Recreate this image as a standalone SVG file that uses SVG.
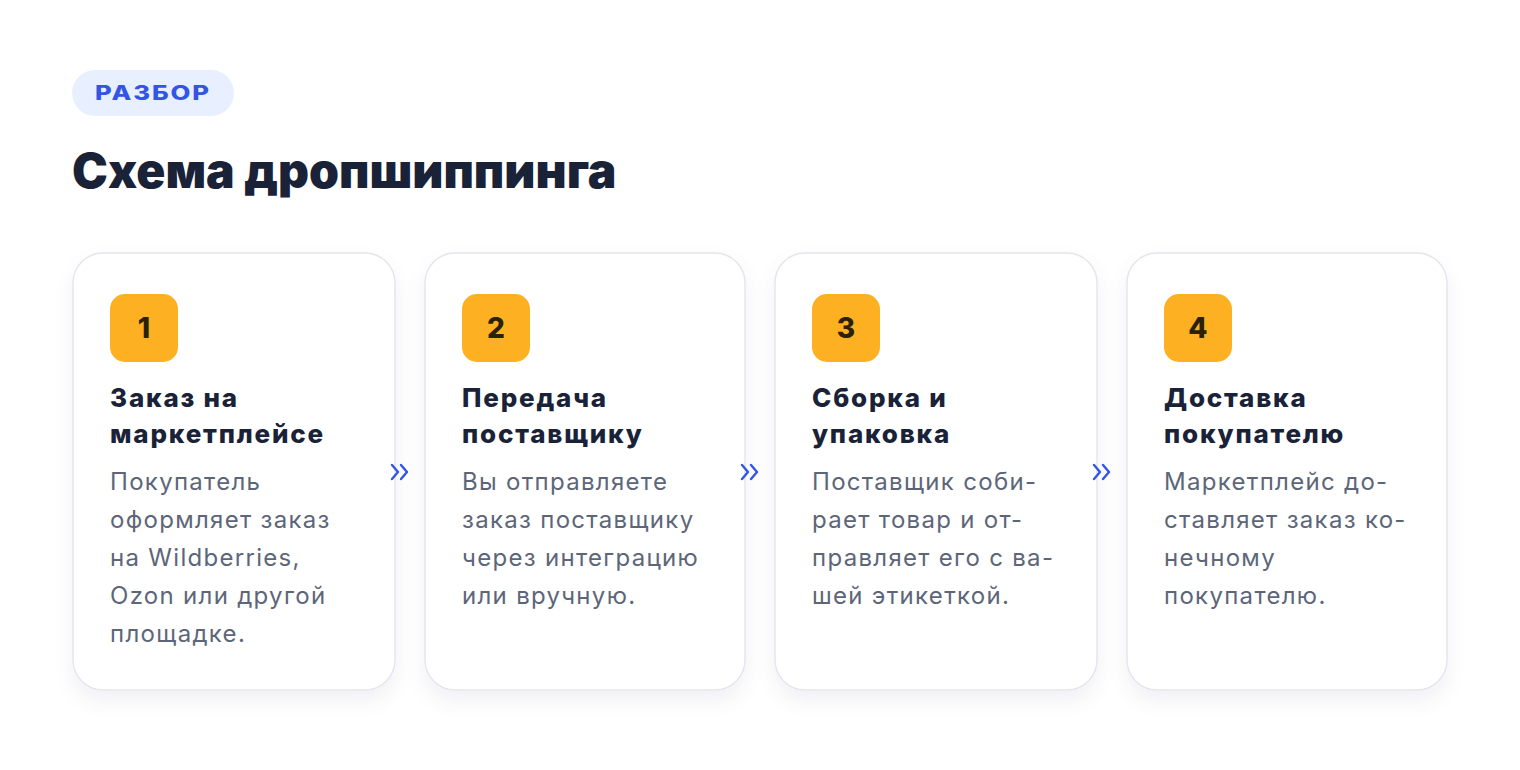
<svg xmlns="http://www.w3.org/2000/svg" width="1520" height="770" viewBox="0 0 1520 770">
<defs>
<filter id="sh" x="-20%" y="-20%" width="140%" height="140%">
<feDropShadow dx="0" dy="10" stdDeviation="10" flood-color="#1a2238" flood-opacity="0.06"/>
</filter>
<style>
.card{fill:#ffffff;stroke:#e3e6ee;stroke-width:1.5}
.badge{fill:#fdb022}
.num{font-family:Inter,"Noto Sans",sans-serif;font-weight:800;font-size:28px;fill:#2a2205;text-anchor:middle;letter-spacing:0}
.ttl{font-family:Inter,"Noto Sans",sans-serif;font-weight:800;font-size:26px;fill:#1a2238;letter-spacing:1.8px}
.dsc{font-family:Inter,"Noto Sans",sans-serif;font-weight:400;font-size:24px;fill:#5d6679;letter-spacing:1.3px}
.chev{fill:none;stroke:#3355e6;stroke-width:2.4;stroke-linecap:round;stroke-linejoin:round}
</style>
</defs>
<rect width="1520" height="770" fill="#ffffff"/>
<g id="tag">
<rect x="72" y="70" width="162" height="46" rx="23" fill="#e8efff"/>
<text x="95" y="99.5" font-family="Inter,'Noto Sans',sans-serif" font-weight="800" font-size="20" letter-spacing="1.5" textLength="116" lengthAdjust="spacingAndGlyphs" fill="#3355e6">РАЗБОР</text>
</g>
<text id="title" x="72" y="188" font-family="Inter,'Noto Sans',sans-serif" font-weight="900" font-size="48" letter-spacing="0" fill="#1a2238">Схема дропшиппинга</text>

<g id="step1">
<rect class="card" x="73" y="253" width="322" height="437" rx="30" filter="url(#sh)"/>
<rect class="badge" x="110" y="294" width="68" height="68" rx="15"/>
<text class="num" x="144" y="338">1</text>
<text class="ttl" x="110" y="407">Заказ на</text>
<text class="ttl" x="110" y="443">маркетплейсе</text>
<text class="dsc" x="110" y="490">Покупатель</text>
<text class="dsc" x="110" y="528">оформляет заказ</text>
<text class="dsc" x="110" y="566">на Wildberries,</text>
<text class="dsc" x="110" y="604">Ozon или другой</text>
<text class="dsc" x="110" y="642">площадке.</text>
</g>
<g id="step2">
<rect class="card" x="425" y="253" width="320" height="437" rx="30" filter="url(#sh)"/>
<rect class="badge" x="462" y="294" width="68" height="68" rx="15"/>
<text class="num" x="496" y="338">2</text>
<text class="ttl" x="462" y="407">Передача</text>
<text class="ttl" x="462" y="443">поставщику</text>
<text class="dsc" x="462" y="490">Вы отправляете</text>
<text class="dsc" x="462" y="528">заказ поставщику</text>
<text class="dsc" x="462" y="566">через интеграцию</text>
<text class="dsc" x="462" y="604">или вручную.</text>
</g>
<g id="step3">
<rect class="card" x="775" y="253" width="322" height="437" rx="30" filter="url(#sh)"/>
<rect class="badge" x="812" y="294" width="68" height="68" rx="15"/>
<text class="num" x="846" y="338">3</text>
<text class="ttl" x="812" y="407">Сборка и</text>
<text class="ttl" x="812" y="443">упаковка</text>
<text class="dsc" x="812" y="490">Поставщик соби-</text>
<text class="dsc" x="812" y="528">рает товар и от-</text>
<text class="dsc" x="812" y="566">правляет его с ва-</text>
<text class="dsc" x="812" y="604">шей этикеткой.</text>
</g>
<g id="step4">
<rect class="card" x="1127" y="253" width="320" height="437" rx="30" filter="url(#sh)"/>
<rect class="badge" x="1164" y="294" width="68" height="68" rx="15"/>
<text class="num" x="1198" y="338">4</text>
<text class="ttl" x="1164" y="407">Доставка</text>
<text class="ttl" x="1164" y="443">покупателю</text>
<text class="dsc" x="1164" y="490">Маркетплейс до-</text>
<text class="dsc" x="1164" y="528">ставляет заказ ко-</text>
<text class="dsc" x="1164" y="566">нечному</text>
<text class="dsc" x="1164" y="604">покупателю.</text>
</g>
<g id="connectors">
<path class="chev" d="M392 465 L398 472 L392 479 M401 465 L407 472 L401 479"/>
<path class="chev" d="M742 465 L748 472 L742 479 M751 465 L757 472 L751 479"/>
<path class="chev" d="M1094 465 L1100 472 L1094 479 M1103 465 L1109 472 L1103 479"/>
</g>
</svg>
